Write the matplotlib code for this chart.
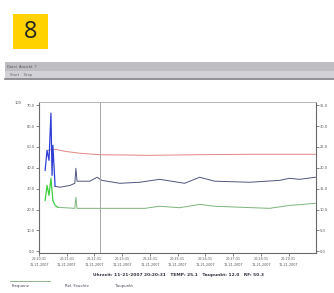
import matplotlib.pyplot as plt
from matplotlib.patches import Rectangle
from matplotlib.lines import Line2D

# data (x in tick units, y in left-axis units)
red_x = [0.32, 0.58, 0.94, 1.47, 2.19, 4.0, 5.8, 7.6, 9.96]
red_y = [48.4, 48.9, 47.9, 47.0, 46.3, 46.0, 46.3, 46.5, 46.5]

blue_x = [0.22, 0.29, 0.36, 0.43, 0.47, 0.50, 0.58, 0.76, 1.12, 1.29, 1.33, 1.37,
          1.83, 2.09, 2.27, 2.91, 3.63, 4.35, 5.25, 5.79, 6.33, 7.59, 8.67, 9.03,
          9.39, 9.96]
blue_y = [38.8, 48.4, 43.6, 66.2, 36.4, 50.8, 31.2, 30.7, 31.6, 32.6, 39.8, 33.6,
          33.6, 35.5, 34.0, 32.6, 33.1, 34.5, 32.6, 35.5, 33.6, 33.1, 34.0, 35.0,
          34.5, 35.5]

green_x = [0.22, 0.29, 0.36, 0.43, 0.50, 0.58, 0.68, 1.29, 1.33, 1.37, 2.19, 3.81,
           4.35, 5.07, 5.79, 6.33, 8.3, 9.03, 9.96]
green_y = [24.4, 31.6, 26.8, 35.0, 24.4, 22.0, 21.1, 20.6, 25.9, 20.6, 20.6, 20.6,
           21.6, 20.9, 22.5, 21.6, 20.6, 22.0, 23.0]

spike_n = 7  # first points of the start-up burst, drawn brighter
marker_x = 2.19
left_ticks = [0, 10, 20, 30, 40, 50, 60, 70]
left_labels = ["0.0", "10.0", "20.0", "30.0", "40.0", "50.0", "60.0", "70.0"]
right_ticks = [0, 5, 10, 15, 20, 25, 30, 35]
right_labels = ["0.0", "5.0", "10.0", "15.0", "20.0", "25.0", "30.0", "35.0"]
x_ticks = list(range(10))
x_labels = ["20:20:31\n11-21-2007", "20:21:31\n11-21-2007", "20:22:31\n11-21-2007",
            "20:23:31\n11-21-2007", "20:24:31\n11-21-2007", "20:25:31\n11-21-2007",
            "20:26:31\n11-21-2007", "20:27:31\n11-21-2007", "20:28:31\n11-21-2007",
            "20:29:31\n11-21-2007"]
status = "Uhrzeit: 11-21-2007 20:20:31   TEMP: 25.1   Taupunkt: 12.0   RF: 50.3"
legend_items = ["Frequenz", "Rel. Feuchte", "Taupunkt"]

fig = plt.figure(figsize=(3.34, 2.93), dpi=100)

# yellow number badge
fig.patches.append(Rectangle((0.039, 0.833), 0.105, 0.119, transform=fig.transFigure,
                             facecolor="#ffd200", edgecolor="none"))
fig.text(0.0915, 0.892, "8", ha="center", va="center", fontsize=17,
         family="Open Sans", color="#222222")

# window toolbar
fig.patches.append(Rectangle((0.015, 0.756), 0.985, 0.032, transform=fig.transFigure,
                             facecolor="#bdbdc2", edgecolor="none"))
fig.patches.append(Rectangle((0.015, 0.733), 0.985, 0.024, transform=fig.transFigure,
                             facecolor="#d2d2d6", edgecolor="none"))
fig.lines.append(Line2D([0.015, 1.0], [0.731, 0.731], transform=fig.transFigure,
                       color="#7d7d84", lw=1.2))
fig.text(0.02, 0.772, "Datei  Ansicht  ?", fontsize=2.6, color="#555555", va="center")
fig.text(0.03, 0.744, "Start    Stop", fontsize=2.6, color="#666666", va="center")

ax = fig.add_axes([0.1168, 0.1365, 0.829, 0.515])
ax.plot(red_x, red_y, color="#e58585", lw=0.7)
ax.plot(blue_x[spike_n - 1:], blue_y[spike_n - 1:], color="#50557f", lw=0.7)
ax.plot(blue_x[:spike_n], blue_y[:spike_n], color="#2f3fd6", lw=0.9)
ax.plot(green_x[spike_n - 1:], green_y[spike_n - 1:], color="#7cb47c", lw=0.7)
ax.plot(green_x[:spike_n], green_y[:spike_n], color="#3fcf3f", lw=0.9)
ax.axvline(marker_x, color="#a8a8a8", lw=0.7)

ax.set_xlim(0, 9.98)
ax.set_ylim(-0.8, 71.5)
ax.set_xticks(x_ticks)
ax.set_xticklabels(x_labels, fontsize=2.4, color="#555577", linespacing=1.6)
ax.set_yticks(left_ticks)
ax.set_yticklabels(left_labels, fontsize=2.6, color="#555555")
ax.tick_params(length=2, width=0.5, pad=1, colors="#555555")
for s in ["left", "bottom"]:
    ax.spines[s].set_color("#6a6a6a")
    ax.spines[s].set_linewidth(0.8)
ax.spines["top"].set_color("#b5b5b5")
ax.spines["top"].set_linewidth(0.7)
ax.spines["right"].set_color("#6a6a6a")
ax.spines["right"].set_linewidth(0.8)
fig.text(0.045, 0.648, "100", fontsize=2.6, color="#555555", va="center")

ax2 = ax.twinx()
ax2.set_ylim(-0.4, 35.75)
ax2.set_yticks(right_ticks)
ax2.set_yticklabels(right_labels, fontsize=2.6, color="#555555")
ax2.tick_params(length=2, width=0.5, pad=1, colors="#555555")
for s in ax2.spines.values():
    s.set_visible(False)

fig.text(0.535, 0.061, status, ha="center", va="center", fontsize=3.2,
         color="#333344", fontweight="bold")

fig.lines.append(Line2D([0.03, 0.15], [0.041, 0.041], transform=fig.transFigure,
                       color="#7aa87a", lw=0.6))
for xpos, item in zip([0.036, 0.195, 0.344], legend_items):
    fig.text(xpos, 0.024, item, fontsize=2.8, color="#444455", va="center")

fig.savefig("out.png", dpi=100)
